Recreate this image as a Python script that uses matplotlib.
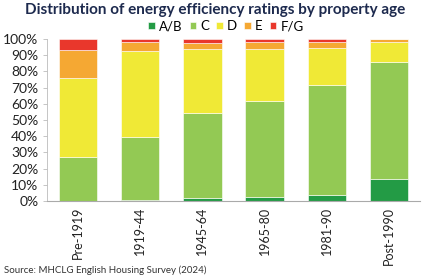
import matplotlib.pyplot as plt
import numpy as np

plt.rcParams['font.family'] = ['Lato', 'DejaVu Sans']

# Data (% of dwellings)
ages = ['Pre-1919', '1919-44', '1945-64', '1965-80', '1981-90', 'Post-1990']
bands = ['A/B', 'C', 'D', 'E', 'F/G']
ab = [0.3, 0.5, 2.0, 2.6, 4.0, 13.4]
c = [26.7, 39.2, 52.5, 59.1, 67.6, 72.6]
d = [49.0, 53.0, 39.3, 32.1, 22.7, 12.0]
e = [17.0, 5.5, 3.9, 4.2, 3.7, 2.0]
fg = [7.0, 1.8, 2.3, 2.0, 2.0, 0.0]

colors = ['#239b45', '#93c954', '#f0e936', '#f5a833', '#e9372c']
navy = '#1d2a4e'

fig = plt.figure(figsize=(4.3, 2.8), dpi=100)
ax = fig.add_axes([0.109, 0.282, 0.868, 0.579])

x = np.arange(len(ages))
bottom = np.zeros(len(ages))
for name, vals, col in zip(bands, [ab, c, d, e, fg], colors):
    vals = np.array(vals)
    ax.bar(x, vals, 0.62, bottom=bottom, color=col, label=name,
           edgecolor='white', linewidth=0.4)
    bottom += vals

ax.set_xlim(-0.5, 5.5)
ax.set_ylim(0, 100)
ax.set_yticks(np.arange(0, 101, 10))
ax.set_yticklabels([f'{v}%' for v in range(0, 101, 10)], fontsize=10, color='#222222')
ax.set_xticks(x)
ax.set_xticklabels(ages, rotation=90, fontsize=9, color='#222222')
for s in ['top', 'right']:
    ax.spines[s].set_visible(False)
ax.spines['bottom'].set_color('#aaaaaa')
ax.spines['left'].set_color('#bbbbbb')
ax.spines['left'].set_linewidth(0.6)
ax.tick_params(axis='y', length=3, width=0.6, color='#bbbbbb', pad=3)
ax.tick_params(axis='x', length=0, pad=4)

fig.text(0.5, 0.965, 'Distribution of energy efficiency ratings by property age',
         ha='center', va='center', fontsize=11, fontweight='bold', color=navy)
ax.legend(loc='lower center', bbox_to_anchor=(0.48, 1.0), ncol=5, frameon=False,
          fontsize=9.5, handlelength=0.5, handleheight=0.5, handletextpad=0.3,
          columnspacing=0.55, borderaxespad=0.1)
fig.text(0.01, 0.035, 'Source: MHCLG English Housing Survey (2024)', fontsize=7,
         color='#333333', va='center')

fig.savefig('out.png', dpi=100)
